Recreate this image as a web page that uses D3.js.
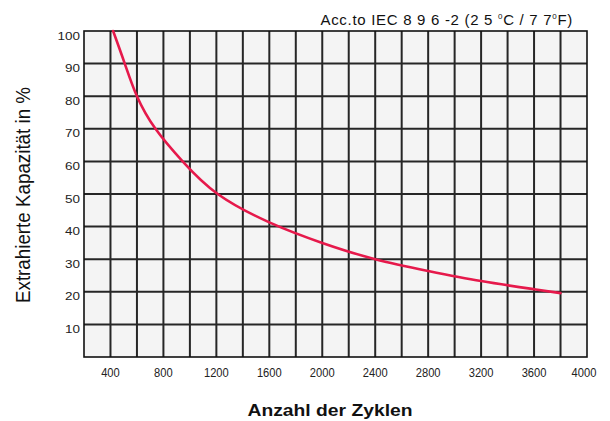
<!DOCTYPE html>
<html>
<head>
<meta charset="utf-8">
<script src="https://cdn.jsdelivr.net/npm/d3@7"></script>
<style>
  body { margin: 0; background: #fff; }
  svg { display: block; font-family: "Liberation Sans", Arial, sans-serif; }
</style>
</head>
<body>
<div id="chart"></div>
<script>
// values (cycles -> extracted capacity %)
const cycles = [420, 508, 600, 740, 945, 1210, 1600, 2000, 2400, 2800, 3200, 3600, 3800];
const capacity = [100, 90, 80, 70, 60, 50, 41.3, 35, 30, 26.4, 23.3, 20.8, 19.6];

const xTicks = [400, 800, 1200, 1600, 2000, 2400, 2800, 3200, 3600, 4000];
const yTicks = [10, 20, 30, 40, 50, 60, 70, 80, 90, 100];

const width = 610, height = 421;
const margin = { top: 31, right: 23, bottom: 64, left: 84 };

const svg = d3.select('#chart')
  .append('svg')
  .attr('width', width)
  .attr('height', height);

const x = d3.scaleLinear().domain([200, 4000]).range([margin.left, width - margin.right]);
const y = d3.scaleLinear().domain([0, 100]).range([height - margin.bottom, margin.top]);

// plot background
svg.append('rect')
  .attr('x', x(200))
  .attr('y', y(100))
  .attr('width', x(4000) - x(200))
  .attr('height', y(0) - y(100))
  .attr('fill', '#f4f4f4');

// grid: vertical every 200 cycles, horizontal every 10 %
const vGrid = d3.range(400, 4000, 200);
const hGrid = d3.range(10, 100, 10);

svg.append('g')
  .selectAll('line')
  .data(vGrid)
  .join('line')
  .attr('x1', d => x(d)).attr('x2', d => x(d))
  .attr('y1', y(0)).attr('y2', y(100))
  .attr('stroke', '#262626')
  .attr('stroke-width', 2);

svg.append('g')
  .selectAll('line')
  .data(hGrid)
  .join('line')
  .attr('x1', x(200)).attr('x2', x(4000))
  .attr('y1', d => y(d)).attr('y2', d => y(d))
  .attr('stroke', '#262626')
  .attr('stroke-width', 2);

// frame
svg.append('rect')
  .attr('x', x(200))
  .attr('y', y(100))
  .attr('width', x(4000) - x(200))
  .attr('height', y(0) - y(100))
  .attr('fill', 'none')
  .attr('stroke', '#111')
  .attr('stroke-width', 1.6);

// curve
const line = d3.line()
  .x((d, i) => x(cycles[i]))
  .y(d => y(d))
  .curve(d3.curveNatural);

svg.append('path')
  .datum(capacity)
  .attr('d', line)
  .attr('fill', 'none')
  .attr('stroke', '#e6194b')
  .attr('stroke-width', 2.6)
  .attr('stroke-linecap', 'round');

// tick labels
svg.append('g')
  .selectAll('text')
  .data(xTicks)
  .join('text')
  .attr('x', d => x(d) - (d === 4000 ? 3 : 0))
  .attr('y', y(0) + 20)
  .attr('text-anchor', 'middle')
  .attr('font-size', 13)
  .attr('fill', '#222')
  .attr('textLength', d => String(d).length * 6.2)
  .attr('lengthAdjust', 'spacingAndGlyphs')
  .text(d => d);

svg.append('g')
  .selectAll('text')
  .data(yTicks)
  .join('text')
  .attr('x', x(200) - 4)
  .attr('y', d => y(d) + 8.5)
  .attr('text-anchor', 'end')
  .attr('font-size', 11)
  .attr('fill', '#222')
  .attr('textLength', d => String(d).length * 7.5)
  .attr('lengthAdjust', 'spacingAndGlyphs')
  .text(d => d);

// title, with small raised degree zeros
const title = svg.append('text')
  .attr('x', 573)
  .attr('y', 25)
  .attr('text-anchor', 'end')
  .attr('font-size', 15)
  .attr('letter-spacing', 0.7)
  .attr('fill', '#111');
title.append('tspan').text('Acc.to IEC 8 9 6 -2 (2 5 ');
title.append('tspan').attr('font-size', 8).attr('dy', -6).text('0');
title.append('tspan').attr('dy', 6).text('C / 7 7');
title.append('tspan').attr('font-size', 8).attr('dy', -6).text('0');
title.append('tspan').attr('dy', 6).text('F)');

// axis titles
svg.append('text')
  .attr('transform', `translate(30,195) rotate(-90)`)
  .attr('text-anchor', 'middle')
  .attr('font-size', 20)
  .attr('fill', '#111')
  .attr('textLength', 216)
  .attr('lengthAdjust', 'spacingAndGlyphs')
  .text('Extrahierte Kapazität in %');

svg.append('text')
  .attr('x', 330)
  .attr('y', 416)
  .attr('text-anchor', 'middle')
  .attr('font-size', 16)
  .attr('font-weight', 'bold')
  .attr('fill', '#111')
  .attr('textLength', 165)
  .attr('lengthAdjust', 'spacingAndGlyphs')
  .text('Anzahl der Zyklen');
</script>
</body>
</html>
